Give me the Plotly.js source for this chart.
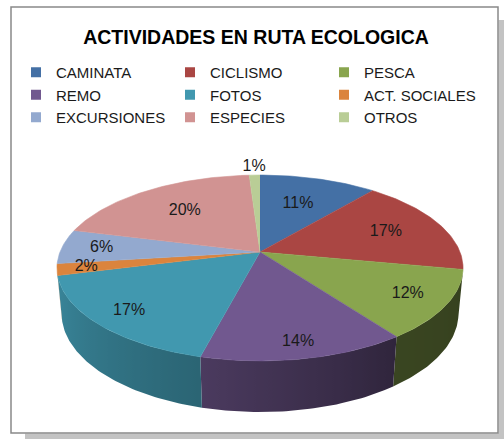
<!DOCTYPE html>
<html>
<head>
<meta charset="utf-8">
<script src="https://cdn.plot.ly/plotly-3.0.1.min.js"></script>
<style>html,body{margin:0;padding:0;background:#fff;}#chart{width:504px;height:439px;}</style>
</head>
<body>
<div id="chart"></div>
<script>
// ---- data ----
var categories = ['CAMINATA','CICLISMO','PESCA','REMO','FOTOS','ACT. SOCIALES','EXCURSIONES','ESPECIES','OTROS'];
var values = [11, 17, 12, 14, 17, 2, 6, 20, 1];
var colors = ['#4470A5','#AA4643','#89A54E','#71588F','#4198AF','#DB843D','#93A9CF','#D19392','#B9CD96'];
var chartTitle = 'ACTIVIDADES EN RUTA ECOLOGICA';

// ---- 3D pie geometry (perspective view) ----
var CX = 260, CY = 252, F = 1038, D = 5.19, R = 1, H = 0.257;
var PHI = 26.8 * Math.PI / 180, SP = Math.sin(PHI), CP = Math.cos(PHI);
function proj(X, Y, Z) {
  var v = Y * CP - Z * SP;
  var depth = D - Y * SP - Z * CP;
  return [CX + F * X / depth, CY - F * v / depth];
}
function rim(thDeg, r, Y) {
  var t = thDeg * Math.PI / 180;
  return proj(r * Math.sin(t), Y, -r * Math.cos(t));
}
function shade(hex, f) {
  var n = parseInt(hex.slice(1), 16);
  var r = Math.round(((n >> 16) & 255) * f), g = Math.round(((n >> 8) & 255) * f), b = Math.round((n & 255) * f);
  return 'rgb(' + r + ',' + g + ',' + b + ')';
}
var shadeNodes = [[90, 0.38], [144, 0.42], [194, 0.66], [270, 0.94]];
function wallFactor(th) {
  for (var i = 0; i < shadeNodes.length - 1; i++) {
    var a = shadeNodes[i], b = shadeNodes[i + 1];
    if (th <= b[0]) return a[1] + (b[1] - a[1]) * Math.max(0, (th - a[0]) / (b[0] - a[0]));
  }
  return shadeNodes[shadeNodes.length - 1][1];
}

var total = values.reduce(function (a, b) { return a + b; }, 0);
var frontLimit = Math.acos(-R / (D * CP)) * 180 / Math.PI; // ~102.5
var front0 = frontLimit, front1 = 360 - frontLimit;

var wallTraces = [], topTraces = [], labelX = [], labelY = [], labelT = [];
var cum = 0;
values.forEach(function (val, i) {
  var a = cum / total * 360, b = (cum + val) / total * 360;
  cum += val;
  // side wall (front-facing part only), shaded with a horizontal gradient
  var wa = Math.max(a, front0), wb = Math.min(b, front1);
  if (wb > wa) {
    var nseg = Math.max(2, Math.ceil(wb - wa));
    var topPts = [], botPts = [], samples = [];
    for (var s = 0; s <= nseg; s++) {
      var t = wa + (wb - wa) * s / nseg;
      topPts.push(rim(t, R, 0)); botPts.push(rim(t, R, -H));
      samples.push([rim(t, R, 0)[0], wallFactor(t)]);
    }
    var poly = topPts.concat(botPts.slice().reverse());
    var xmin = Math.min.apply(null, samples.map(function (q) { return q[0]; }));
    var xmax = Math.max.apply(null, samples.map(function (q) { return q[0]; }));
    samples.sort(function (p, q) { return p[0] - q[0]; });
    var cs = samples.map(function (q) { return [(q[0] - xmin) / (xmax - xmin), shade(colors[i], q[1])]; });
    cs[0][0] = 0; cs[cs.length - 1][0] = 1;
    var midC = shade(colors[i], wallFactor((wa + wb) / 2));
    wallTraces.push({
      type: 'scatter', mode: 'lines', fill: 'toself', fillcolor: midC,
      fillgradient: {type: 'horizontal', start: xmin, stop: xmax, colorscale: cs},
      line: {width: 0, color: midC},
      x: poly.map(function (p) { return p[0]; }), y: poly.map(function (p) { return p[1]; }),
      showlegend: false, hoverinfo: 'skip'
    });
  }
  // top face
  var xs = [], ys = [];
  var c0 = proj(0, 0, 0); xs.push(c0[0]); ys.push(c0[1]);
  var n = Math.max(2, Math.ceil(b - a));
  for (var k = 0; k <= n; k++) {
    var p = rim(a + (b - a) * k / n, R, 0); xs.push(p[0]); ys.push(p[1]);
  }
  topTraces.push({
    type: 'scatter', mode: 'lines', fill: 'toself', fillcolor: colors[i],
    line: {color: colors[i], width: 0.6}, x: xs, y: ys,
    name: categories[i], showlegend: false, hoverinfo: 'skip'
  });
  // label
  var share = val / total, m = (a + b) / 2;
  var rl = share < 0.015 ? 1.12 : share < 0.04 ? 0.86 : share < 0.08 ? 0.8 : 0.74 - 0.13 * Math.cos(m * Math.PI / 180);
  var lp = rim(m, rl, 0);
  labelX.push(lp[0]); labelY.push(lp[1]); labelT.push(Math.round(share * 100) + '%');
});

var labelTrace = {
  type: 'scatter', mode: 'text', x: labelX, y: labelY, text: labelT,
  textposition: 'middle center',
  textfont: {family: 'Liberation Sans, Arial, sans-serif', size: 16, color: '#1a1a1a'},
  showlegend: false, hoverinfo: 'skip'
};
var legendTraces = categories.map(function (c, i) {
  return {
    type: 'scatter', mode: 'markers', x: [null], y: [null], name: c,
    marker: {symbol: 'square', size: 10, color: colors[i]}, hoverinfo: 'skip'
  };
});

var data = wallTraces.concat(topTraces, [labelTrace], legendTraces);

var layout = {
  width: 504, height: 439,
  margin: {l: 0, r: 0, t: 0, b: 0},
  paper_bgcolor: '#ffffff', plot_bgcolor: 'rgba(0,0,0,0)',
  xaxis: {range: [0, 504], visible: false, fixedrange: true},
  yaxis: {range: [439, 0], visible: false, fixedrange: true},
  title: {
    text: '<b>' + chartTitle + '</b>',
    x: 256 / 504, xanchor: 'center', y: 1 - 37 / 439, yanchor: 'middle', yref: 'paper',
    font: {family: 'Liberation Sans, Arial, sans-serif', size: 19.5, color: '#000000'}
  },
  showlegend: true,
  legend: {
    orientation: 'h', x: 16 / 504, xanchor: 'left', y: 1 - 56 / 439, yanchor: 'top',
    entrywidth: 109, entrywidthmode: 'pixels', bgcolor: 'rgba(0,0,0,0)',
    font: {family: 'Liberation Sans, Arial, sans-serif', size: 15, color: '#1a1a1a'},
    traceorder: 'normal'
  },
  shapes: [
    {type: 'rect', xref: 'x', yref: 'y', x0: 25, y0: 433.5, x1: 504, y1: 439, fillcolor: '#c3c3c3', line: {width: 0}, layer: 'below'},
    {type: 'rect', xref: 'x', yref: 'y', x0: 498.5, y0: 20, x1: 504, y1: 439, fillcolor: '#c3c3c3', line: {width: 0}, layer: 'below'},
    {type: 'rect', xref: 'x', yref: 'y', x0: 11, y0: 7, x1: 498, y1: 433, fillcolor: '#ffffff', line: {color: '#898989', width: 1.5}, layer: 'below'}
  ]
};

Plotly.newPlot('chart', data, layout, {staticPlot: true, displayModeBar: false});
</script>
</body>
</html>
